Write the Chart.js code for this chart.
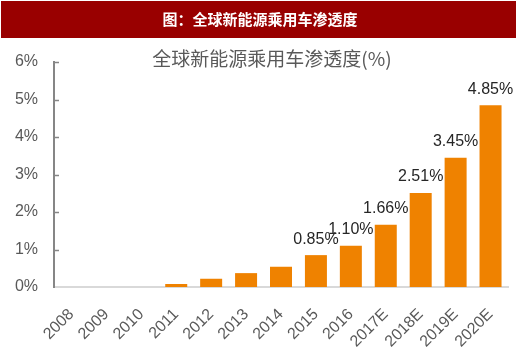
<!DOCTYPE html>
<html>
<head>
<meta charset="utf-8">
<script src="https://cdn.jsdelivr.net/npm/chart.js@4"></script>
<style>
  html, body { margin: 0; padding: 0; background: #fff; }
  #wrap { width: 520px; height: 354px; }
</style>
</head>
<body>
<div id="wrap"><canvas id="chart" width="520" height="354"></canvas></div>
<script>
// 数据
const years = ["2008", "2009", "2010", "2011", "2012", "2013", "2014", "2015", "2016", "2017E", "2018E", "2019E", "2020E"];
const penetration = [0, 0, 0, 0.08, 0.22, 0.37, 0.54, 0.85, 1.10, 1.66, 2.51, 3.45, 4.85];
const labelled = ["0.85%", "1.10%", "1.66%", "2.51%", "3.45%", "4.85%"]; // 2015 起显示
const yTicks = [0, 1, 2, 3, 4, 5, 6];

const headerText = "图：全球新能源乘用车渗透度";
const chartTitle = "全球新能源乘用车渗透度(%)";

const grey = "#595959";

// 红色标题栏 + 图表标题
const headerPlugin = {
  id: "header",
  beforeDraw(chart) {
    const ctx = chart.ctx;
    ctx.save();
    ctx.fillStyle = "#fff";
    ctx.fillRect(0, 0, chart.width, chart.height);
    ctx.fillStyle = "#990000";
    ctx.fillRect(1, 1, 515, 37);
    ctx.fillStyle = "#fff";
    ctx.font = "bold 15px 'Noto Sans CJK SC'";
    ctx.textAlign = "center";
    ctx.textBaseline = "middle";
    ctx.fillText(headerText, 260, 19);
    ctx.fillStyle = grey;
    ctx.font = "19px 'Noto Sans CJK SC'";
    ctx.fillText(chartTitle, 272, 59);
    ctx.restore();
  }
};

// 柱顶数值 + y轴内侧刻度线
const valuePlugin = {
  id: "values",
  afterDatasetsDraw(chart) {
    const ctx = chart.ctx;
    const meta = chart.getDatasetMeta(0);
    const start = years.length - labelled.length;
    ctx.save();
    ctx.fillStyle = "#262626";
    ctx.font = "16px 'Liberation Sans'";
    ctx.textAlign = "center";
    ctx.textBaseline = "bottom";
    labelled.forEach((txt, i) => {
      const bar = meta.data[start + i];
      ctx.fillText(txt, bar.x, bar.y - 8);
    });
    const y = chart.scales.y;
    ctx.strokeStyle = "#868686";
    ctx.lineWidth = 1.5;
    yTicks.slice(1).forEach(v => {
      const py = Math.round(y.getPixelForValue(v)) + 0.5;
      ctx.beginPath();
      ctx.moveTo(y.right, py);
      ctx.lineTo(y.right + 5, py);
      ctx.stroke();
    });
    ctx.restore();
  }
};

new Chart(document.getElementById("chart"), {
  type: "bar",
  data: {
    labels: years,
    datasets: [{
      data: penetration,
      backgroundColor: "#EF8200",
      barPercentage: 0.63,
      categoryPercentage: 1
    }]
  },
  options: {
    responsive: false,
    animation: false,
    layout: { padding: { top: 62, right: 12, left: 0, bottom: 0 } },
    plugins: { legend: { display: false }, tooltip: { enabled: false } },
    scales: {
      x: {
        grid: { display: false },
        border: { color: "#D9D9D9", width: 2 },
        ticks: {
          color: grey,
          font: { family: "Liberation Sans", size: 16 },
          maxRotation: 45,
          minRotation: 45,
          padding: 10
        },
        afterFit(scale) { scale.height = 67; }
      },
      y: {
        min: 0,
        max: 6,
        afterBuildTicks(scale) { scale.ticks = yTicks.map(v => ({ value: v })); },
        grid: { display: false },
        border: { color: "#868686", width: 2 },
        ticks: {
          color: grey,
          font: { family: "Liberation Sans", size: 16 },
          padding: 8,
          callback: v => v + "%"
        },
        afterFit(scale) { scale.width = 54; }
      }
    }
  },
  plugins: [headerPlugin, valuePlugin]
});
</script>
</body>
</html>
